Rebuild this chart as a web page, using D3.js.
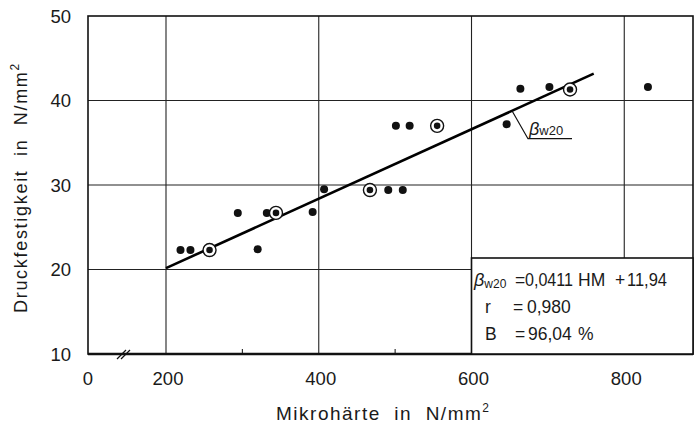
<!DOCTYPE html>
<meta charset="utf-8">
<style>
body { margin: 0; background: #fff; }
svg { font-family: "Liberation Sans", Arial, sans-serif; }
.grid { stroke: #222; stroke-width: 1.1px; }
.frame { fill: none; stroke: #111; stroke-width: 1.6px; }
.lbl { fill: #1a1a1a; }
</style>
<svg width="695" height="431"></svg>
<script src="https://cdn.jsdelivr.net/npm/d3@7"></script>
<script>
var width = 695, height = 431;

// measured points (Mikrohärte HM, Druckfestigkeit beta_w20)
var pointHM   = [219, 232, 320, 294, 332, 392, 407, 491, 510, 501, 519, 646, 664, 702, 831];
var pointBeta = [22.3, 22.3, 22.4, 26.7, 26.7, 26.8, 29.5, 29.4, 29.4, 37.0, 37.0, 37.2, 41.4, 41.6, 41.6];
// circled points (group means)
var meanHM    = [257, 344, 467, 555, 729];
var meanBeta  = [22.3, 26.7, 29.4, 37.0, 41.3];

var xTicks = [0, 200, 400, 600, 800];
var xMinor = [300, 500, 700];
var yTicks = [10, 20, 30, 40, 50];
var slope = 0.0411, intercept = 11.94, fitRange = [200, 760];
var legendWords = [["=", "0,0411", "HM", "+", "11,94"], ["r", "=", "0,980"], ["B", "=", "96,04", "%"]];

var svg = d3.select("svg");

// x axis is broken between 0 and 200
var x = d3.scaleLinear().domain([0, 200, 890]).range([88, 166, 693]);
var y = d3.scaleLinear().domain([10, 50]).range([354, 16]);

// grid
svg.selectAll(".vgrid").data([200, 400, 600, 800]).enter().append("line")
    .attr("class", "grid")
    .attr("x1", function(d){ return x(d); }).attr("x2", function(d){ return x(d); })
    .attr("y1", y(50)).attr("y2", y(10));
svg.selectAll(".hgrid").data([20, 30, 40]).enter().append("line")
    .attr("class", "grid")
    .attr("x1", x(0)).attr("x2", x(890))
    .attr("y1", function(d){ return y(d); }).attr("y2", function(d){ return y(d); });

// minor ticks on the x axis
svg.selectAll(".minor").data(xMinor).enter().append("line")
    .attr("class", "grid")
    .attr("x1", function(d){ return x(d); }).attr("x2", function(d){ return x(d); })
    .attr("y1", y(10)).attr("y2", y(10) - 5);

// frame
svg.append("rect").attr("class", "frame")
    .attr("x", x(0)).attr("y", y(50))
    .attr("width", x(890) - x(0)).attr("height", y(10) - y(50));
svg.append("line")
    .attr("x1", x(0)).attr("x2", x(890)).attr("y1", y(10)).attr("y2", y(10))
    .attr("stroke", "#111").attr("stroke-width", 2.4);

// axis break
[0, 4].forEach(function(o){
  svg.append("line")
    .attr("x1", 117 + o).attr("y1", y(10) + 5)
    .attr("x2", 126 + o).attr("y2", y(10) - 4)
    .attr("stroke", "#111").attr("stroke-width", 1.3);
});

// tick labels
svg.selectAll(".xl").data(xTicks).enter().append("text")
    .attr("class", "lbl")
    .attr("x", function(d){ return x(d) + (d ? 2 : 0); })
    .attr("y", 385)
    .attr("text-anchor", "middle")
    .attr("font-size", 18.5)
    .text(function(d){ return d; });
svg.selectAll(".yl").data(yTicks).enter().append("text")
    .attr("class", "lbl")
    .attr("x", 71)
    .attr("y", function(d){ return y(d) + 6.5; })
    .attr("text-anchor", "end")
    .attr("font-size", 18.5)
    .text(function(d){ return d; });

// axis titles
var xt = svg.append("text").attr("class", "lbl")
    .attr("x", 276).attr("y", 420)
    .attr("font-size", 19).attr("letter-spacing", 1.5)
    .attr("xml:space", "preserve");
xt.append("tspan").text("Mikrohärte  in  N/mm");
xt.append("tspan").attr("dy", -8).attr("font-size", 12).text("2");

var yt = svg.append("text").attr("class", "lbl")
    .attr("transform", "translate(27,313) rotate(-90)")
    .attr("font-size", 18).attr("letter-spacing", 1.7)
    .attr("xml:space", "preserve");
yt.append("tspan").text("Druckfestigkeit  in  N/mm");
yt.append("tspan").attr("dy", -8).attr("font-size", 12).text("2");

// regression line
svg.append("line")
    .attr("x1", x(fitRange[0])).attr("y1", y(slope * fitRange[0] + intercept))
    .attr("x2", x(fitRange[1])).attr("y2", y(slope * fitRange[1] + intercept))
    .attr("stroke", "#000").attr("stroke-width", 2.6);

// points
svg.selectAll(".pt").data(d3.range(pointHM.length)).enter().append("circle")
    .attr("cx", function(i){ return x(pointHM[i]); })
    .attr("cy", function(i){ return y(pointBeta[i]); })
    .attr("r", 4).attr("fill", "#111");
var ring = svg.selectAll(".ring").data(d3.range(meanHM.length)).enter().append("g")
    .attr("transform", function(i){ return "translate(" + x(meanHM[i]) + "," + y(meanBeta[i]) + ")"; });
ring.append("circle").attr("r", 6.5).attr("fill", "#fff").attr("stroke", "#111").attr("stroke-width", 1.4);
ring.append("circle").attr("r", 3.3).attr("fill", "#111");

// line label with leader
var lx = 653, ly = slope * lx + intercept;
svg.append("path")
    .attr("d", "M" + x(lx) + "," + y(ly) + "L" + (x(lx) + 16) + "," + 138.7 + "H" + 572)
    .attr("fill", "none").attr("stroke", "#111").attr("stroke-width", 1.2);
var lt = svg.append("text").attr("class", "lbl").attr("x", 529).attr("y", 135);
lt.append("tspan").attr("font-size", 18).attr("font-style", "italic").text("β");
lt.append("tspan").attr("font-size", 13).text("w20");

// legend box
svg.append("rect")
    .attr("x", x(600)).attr("y", 258)
    .attr("width", x(890) - x(600)).attr("height", y(10) - 258)
    .attr("fill", "#fff").attr("stroke", "#111").attr("stroke-width", 1.6);
var l1 = svg.append("text").attr("class", "lbl").attr("x", 474).attr("y", 286).attr("font-size", 17.5);
l1.append("tspan").attr("font-size", 18).attr("font-style", "italic").text("β");
l1.append("tspan").attr("font-size", 12).attr("dy", 2).text("w20");

var wordX = [[515, 525, 578, 615, 627], [485, 513, 527], [485, 515, 528, 578]];
var wordW = [[0, 48, 0, 0, 40], [0, 0, 0], [0, 0, 0, 0]];
var lineY = [286, 313, 340];
legendWords.forEach(function(words, li){
  words.forEach(function(w, wi){
    var t = svg.append("text").attr("class", "lbl")
        .attr("x", wordX[li][wi]).attr("y", lineY[li])
        .attr("font-size", 17.5).text(w);
    if (wordW[li][wi]) t.attr("textLength", wordW[li][wi]).attr("lengthAdjust", "spacingAndGlyphs");
  });
});
</script>
